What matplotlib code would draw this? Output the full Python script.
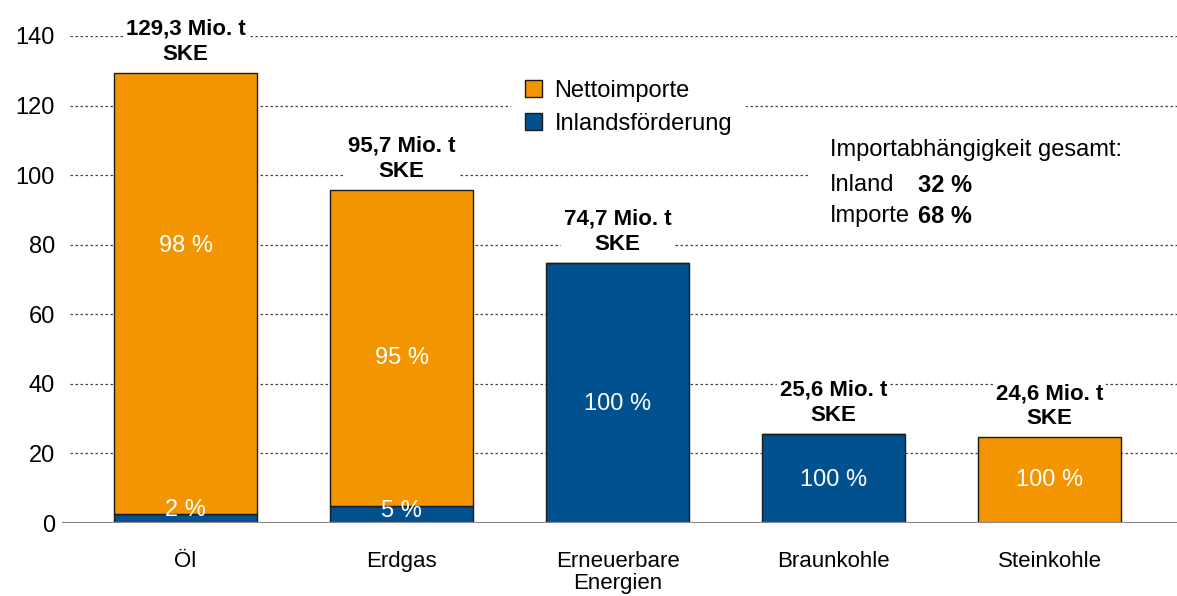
import matplotlib.pyplot as plt
import matplotlib.patches as mpatches
import numpy as np

plt.rcParams["font.family"] = ["Liberation Sans", "DejaVu Sans"]

categories = ["Öl", "Erdgas", "Erneuerbare\nEnergien", "Braunkohle", "Steinkohle"]
totals = [129.3, 95.7, 74.7, 25.6, 24.6]
inland_share = [2, 5, 100, 100, 0]          # % Inlandsförderung
import_share = [98, 95, 0, 0, 100]          # % Nettoimporte
total_labels = ["129,3 Mio. t\nSKE", "95,7 Mio. t\nSKE", "74,7 Mio. t\nSKE",
                "25,6 Mio. t\nSKE", "24,6 Mio. t\nSKE"]

inland = [t * s / 100 for t, s in zip(totals, inland_share)]
imports = [t * s / 100 for t, s in zip(totals, import_share)]

ORANGE = "#F39500"
BLUE = "#02518F"

x = np.arange(len(categories))
width = 0.66

fig = plt.figure(figsize=(11.77, 5.96), dpi=100)
ax = fig.add_axes([62 / 1177, 1 - 523 / 596, 1 - 62 / 1177, (523 - 36) / 596])

ax.bar(x, inland, width, color=BLUE, edgecolor="#1a1a1a", linewidth=1, zorder=3,
       label="Inlandsförderung")
ax.bar(x, imports, width, bottom=inland, color=ORANGE, edgecolor="#1a1a1a",
       linewidth=1, zorder=3, label="Nettoimporte")

# dotted gridlines
for v in range(20, 141, 20):
    ax.axhline(v, xmin=0.007, color="#444444", linewidth=0.9,
               linestyle=(0, (2, 2)), zorder=1)
ax.axhline(0, color="#8a8a8a", linewidth=1.6, zorder=4)

# totals above bars
for xi, t, lab in zip(x, totals, total_labels):
    ax.annotate(lab, (xi, t), xytext=(0, 6), textcoords="offset points",
                ha="center", va="bottom", fontsize=16, fontweight="bold",
                linespacing=1.25, annotation_clip=False, zorder=5,
                bbox=dict(facecolor="white", edgecolor="none", pad=2))

# percentage labels inside bars
pct_texts = [["2 %", "98 %"], ["5 %", "95 %"], ["100 %"], ["100 %"], ["100 %"]]
pct_y = [[3.6, 79.5], [3.4, 47.5], [34.2], [12.4], [12.4]]
for xi, texts, ys in zip(x, pct_texts, pct_y):
    for txt, yv in zip(texts, ys):
        ax.text(xi, yv, txt, ha="center", va="center", color="white",
                fontsize=17, zorder=6)

# legend
handles = [mpatches.Patch(facecolor=ORANGE, edgecolor="#1a1a1a", label="Nettoimporte"),
           mpatches.Patch(facecolor=BLUE, edgecolor="#1a1a1a", label="Inlandsförderung")]
leg = ax.legend(handles=handles, loc="upper left", bbox_to_anchor=(0.392, 0.963),
                frameon=True, fontsize=17, handlelength=0.7, handleheight=0.7,
                handletextpad=0.55, labelspacing=0.45, borderpad=0.6)
leg.get_frame().set_facecolor("white")
leg.get_frame().set_edgecolor("none")
leg.get_frame().set_alpha(1)
leg.set_zorder(5)

# Importabhängigkeit block on a white patch that breaks the gridline
ax.add_patch(mpatches.Rectangle((0.671, 0.62), 0.34, 0.18, transform=ax.transAxes,
                                facecolor="white", edgecolor="none", zorder=2))
ax.text(0.689, 0.788, "Importabhängigkeit gesamt:", transform=ax.transAxes,
        fontsize=17, va="top", ha="left", zorder=6)
ax.text(0.689, 0.716, "Inland", transform=ax.transAxes, fontsize=17,
        va="top", ha="left", zorder=6)
ax.text(0.689, 0.654, "Importe", transform=ax.transAxes, fontsize=17,
        va="top", ha="left", zorder=6)
ax.text(0.768, 0.716, "32 %", transform=ax.transAxes, fontsize=17,
        fontweight="bold", va="top", ha="left", zorder=6)
ax.text(0.768, 0.654, "68 %", transform=ax.transAxes, fontsize=17,
        fontweight="bold", va="top", ha="left", zorder=6)

ax.set_xlim(-0.572, 4.59)
ax.set_ylim(0, 140)
ax.set_yticks(range(0, 141, 20))
ax.set_xticks(x)
ax.set_xticklabels(categories, fontsize=16, linespacing=1.1)
ax.tick_params(axis="both", length=0)
ax.tick_params(axis="y", labelsize=17, pad=5)
ax.tick_params(axis="x", pad=20)
for s in ax.spines.values():
    s.set_visible(False)

fig.savefig("out.png", dpi=100)
